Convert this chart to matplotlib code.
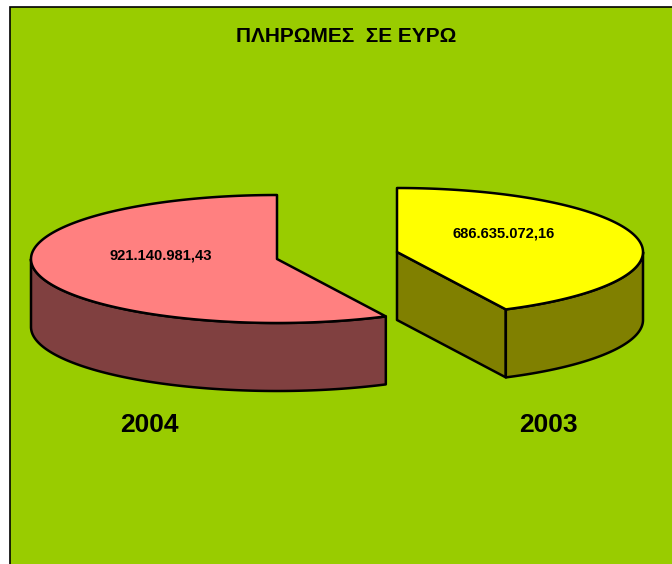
import numpy as np
import matplotlib
matplotlib.use("Agg")
import matplotlib.pyplot as plt
from matplotlib.patches import Polygon

plt.rcParams['font.family'] = ['Liberation Sans', 'DejaVu Sans']

# data
title = "ΠΛΗΡΩΜΕΣ  ΣΕ ΕΥΡΩ"
years = ["2004", "2003"]
values = [921140981.43, 686635072.16]
value_labels = ["921.140.981,43", "686.635.072,16"]

RX, RY, DEPTH = 246, 64, 68
LW = 1.8


def rim(cx, cy, start, end, n=200):
    # angles in degrees, clockwise from 12 o'clock, on the flattened circle
    t = np.radians(np.linspace(start, end, n))
    return np.column_stack([cx + RX * np.sin(t), cy - RY * np.cos(t)])


def draw_face(ax, pts, color):
    ax.add_patch(Polygon(pts, closed=True, facecolor=color, edgecolor='black',
                         linewidth=LW, joinstyle='round'))


fig = plt.figure(figsize=(6.72, 5.64), dpi=100, facecolor='white')
ax = fig.add_axes([0, 0, 1, 1])
ax.set_xlim(0, 672)
ax.set_ylim(564, 0)
ax.axis('off')

# green background with the frame cut by the image edge
ax.add_patch(Polygon([(9.5, 620), (9.5, 6.5), (720, 6.5), (720, 620)], closed=True,
                     facecolor='#99CC00', edgecolor='black', linewidth=1.2))

sweep = [v / sum(values) * 360 for v in values]

# 2004 slice: runs counter-clockwise from the top
cx, cy = 277, 259
top = rim(cx, cy, 360 - sweep[0], 360)
outer = rim(cx, cy, 360 - sweep[0], 270)
draw_face(ax, np.vstack([outer, outer[::-1] + [0, DEPTH]]), '#804040')
draw_face(ax, np.vstack([[(cx, cy)], top]), '#FF8080')

# 2003 slice: runs clockwise from the top
cx, cy = 397, 252
top = rim(cx, cy, 0, sweep[1])
outer = rim(cx, cy, 90, sweep[1])
corner = top[-1]
draw_face(ax, [(cx, cy), corner, corner + [0, DEPTH], (cx, cy + DEPTH)], '#808000')
draw_face(ax, np.vstack([outer, outer[::-1] + [0, DEPTH]]), '#808000')
draw_face(ax, np.vstack([[(cx, cy)], top]), '#FFFF00')

ax.text(346, 36, title, ha='center', va='center', fontsize=15, fontweight='bold')
ax.text(160.5, 256, value_labels[0], ha='center', va='center', fontsize=10.6, fontweight='bold')
ax.text(504, 233, value_labels[1], ha='center', va='center', fontsize=10.6, fontweight='bold')
ax.text(149, 425, years[0], ha='center', va='center', fontsize=19, fontweight='bold')
ax.text(548, 425, years[1], ha='center', va='center', fontsize=19, fontweight='bold')

fig.savefig("out.png", dpi=100, facecolor='white')
